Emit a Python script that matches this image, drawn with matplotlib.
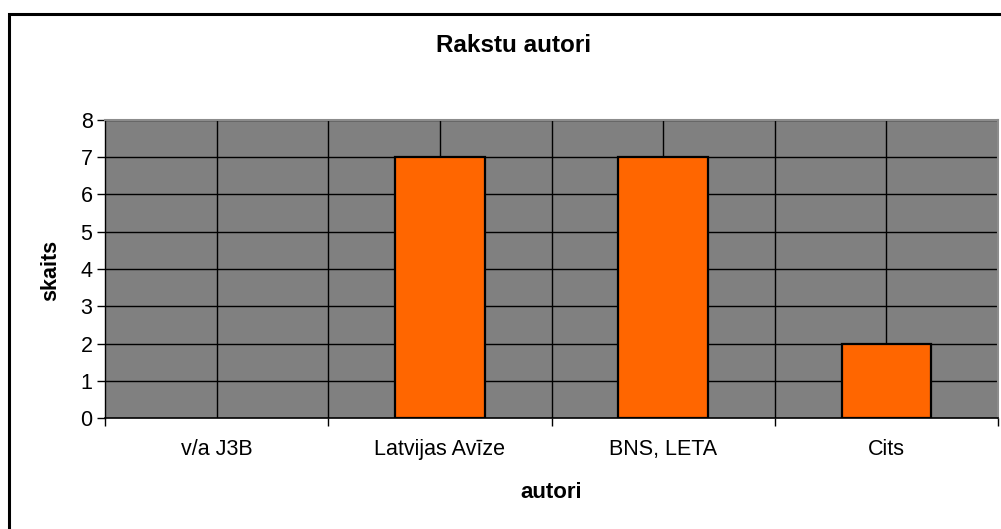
import matplotlib
matplotlib.use("Agg")
import matplotlib.pyplot as plt
from matplotlib.patches import Rectangle
import numpy as np

plt.rcParams['font.family'] = ['Liberation Sans', 'DejaVu Sans']

categories = ["v/a J3B", "Latvijas Avīze", "BNS, LETA", "Cits"]
values = [0, 7, 7, 2]
y_ticks = [0, 1, 2, 3, 4, 5, 6, 7, 8]

W, H = 1001, 529
fig = plt.figure(figsize=(W / 100, H / 100), dpi=100)
fig.patch.set_facecolor("white")

# outer chart frame (extends past right/bottom edges)
fig.patches.append(Rectangle((9 / W, -0.1), 1.2, 1 - 14 / H + 0.1,
                             transform=fig.transFigure, fill=False,
                             edgecolor="black", linewidth=2.2, clip_on=False))

ax = fig.add_axes([105 / W, 1 - 418 / H, (998 - 105) / W, (418 - 120) / H])
ax.set_facecolor("#808080")

x = np.arange(len(categories))
edges = ["black" if v != 0 else "none" for v in values]
ax.bar(x, values, width=0.4, color="#FF6600", edgecolor=edges,
       linewidth=1.6, zorder=3)

ax.set_xlim(-0.5, len(categories) - 0.5)
ax.set_ylim(0, 8)

# gridlines
for yv in y_ticks[1:]:
    ax.axhline(yv, color="black", linewidth=1.0, zorder=1)
for xv in np.arange(-0.5, len(categories) - 0.4, 0.5)[1:-1]:
    ax.axvline(xv, color="black", linewidth=1.0, zorder=1)

ax.set_yticks(y_ticks)
ax.set_yticklabels([str(v) for v in y_ticks], fontsize=15.5)
ax.set_xticks(np.arange(-0.5, len(categories), 1.0))
ax.set_xticklabels([])
ax.set_xticks(x, minor=True)
ax.set_xticklabels(categories, minor=True, fontsize=15.5)
ax.tick_params(axis="x", which="major", length=6, width=1, color="black",
               direction="out")
ax.tick_params(axis="x", which="minor", length=0, pad=15)
ax.tick_params(axis="y", length=6, width=1, color="black", pad=3)

for side in ["top", "right"]:
    ax.spines[side].set_color("#8c8c8c")
    ax.spines[side].set_linewidth(1.5)
ax.spines["left"].set_color("black")
ax.spines["left"].set_linewidth(1.0)
ax.spines["bottom"].set_color("black")
ax.spines["bottom"].set_linewidth(1.2)

fig.text(514 / W, 1 - 46 / H, "Rakstu autori", ha="center", va="center",
         fontsize=17.5, fontweight="bold")
fig.text(51 / W, 1 - 270 / H, "skaits", ha="center", va="center",
         rotation=90, fontsize=15.5, fontweight="bold")
fig.text(551 / W, 1 - 492 / H, "autori", ha="center", va="center",
         fontsize=16, fontweight="bold")

fig.savefig("out.png", dpi=100)
